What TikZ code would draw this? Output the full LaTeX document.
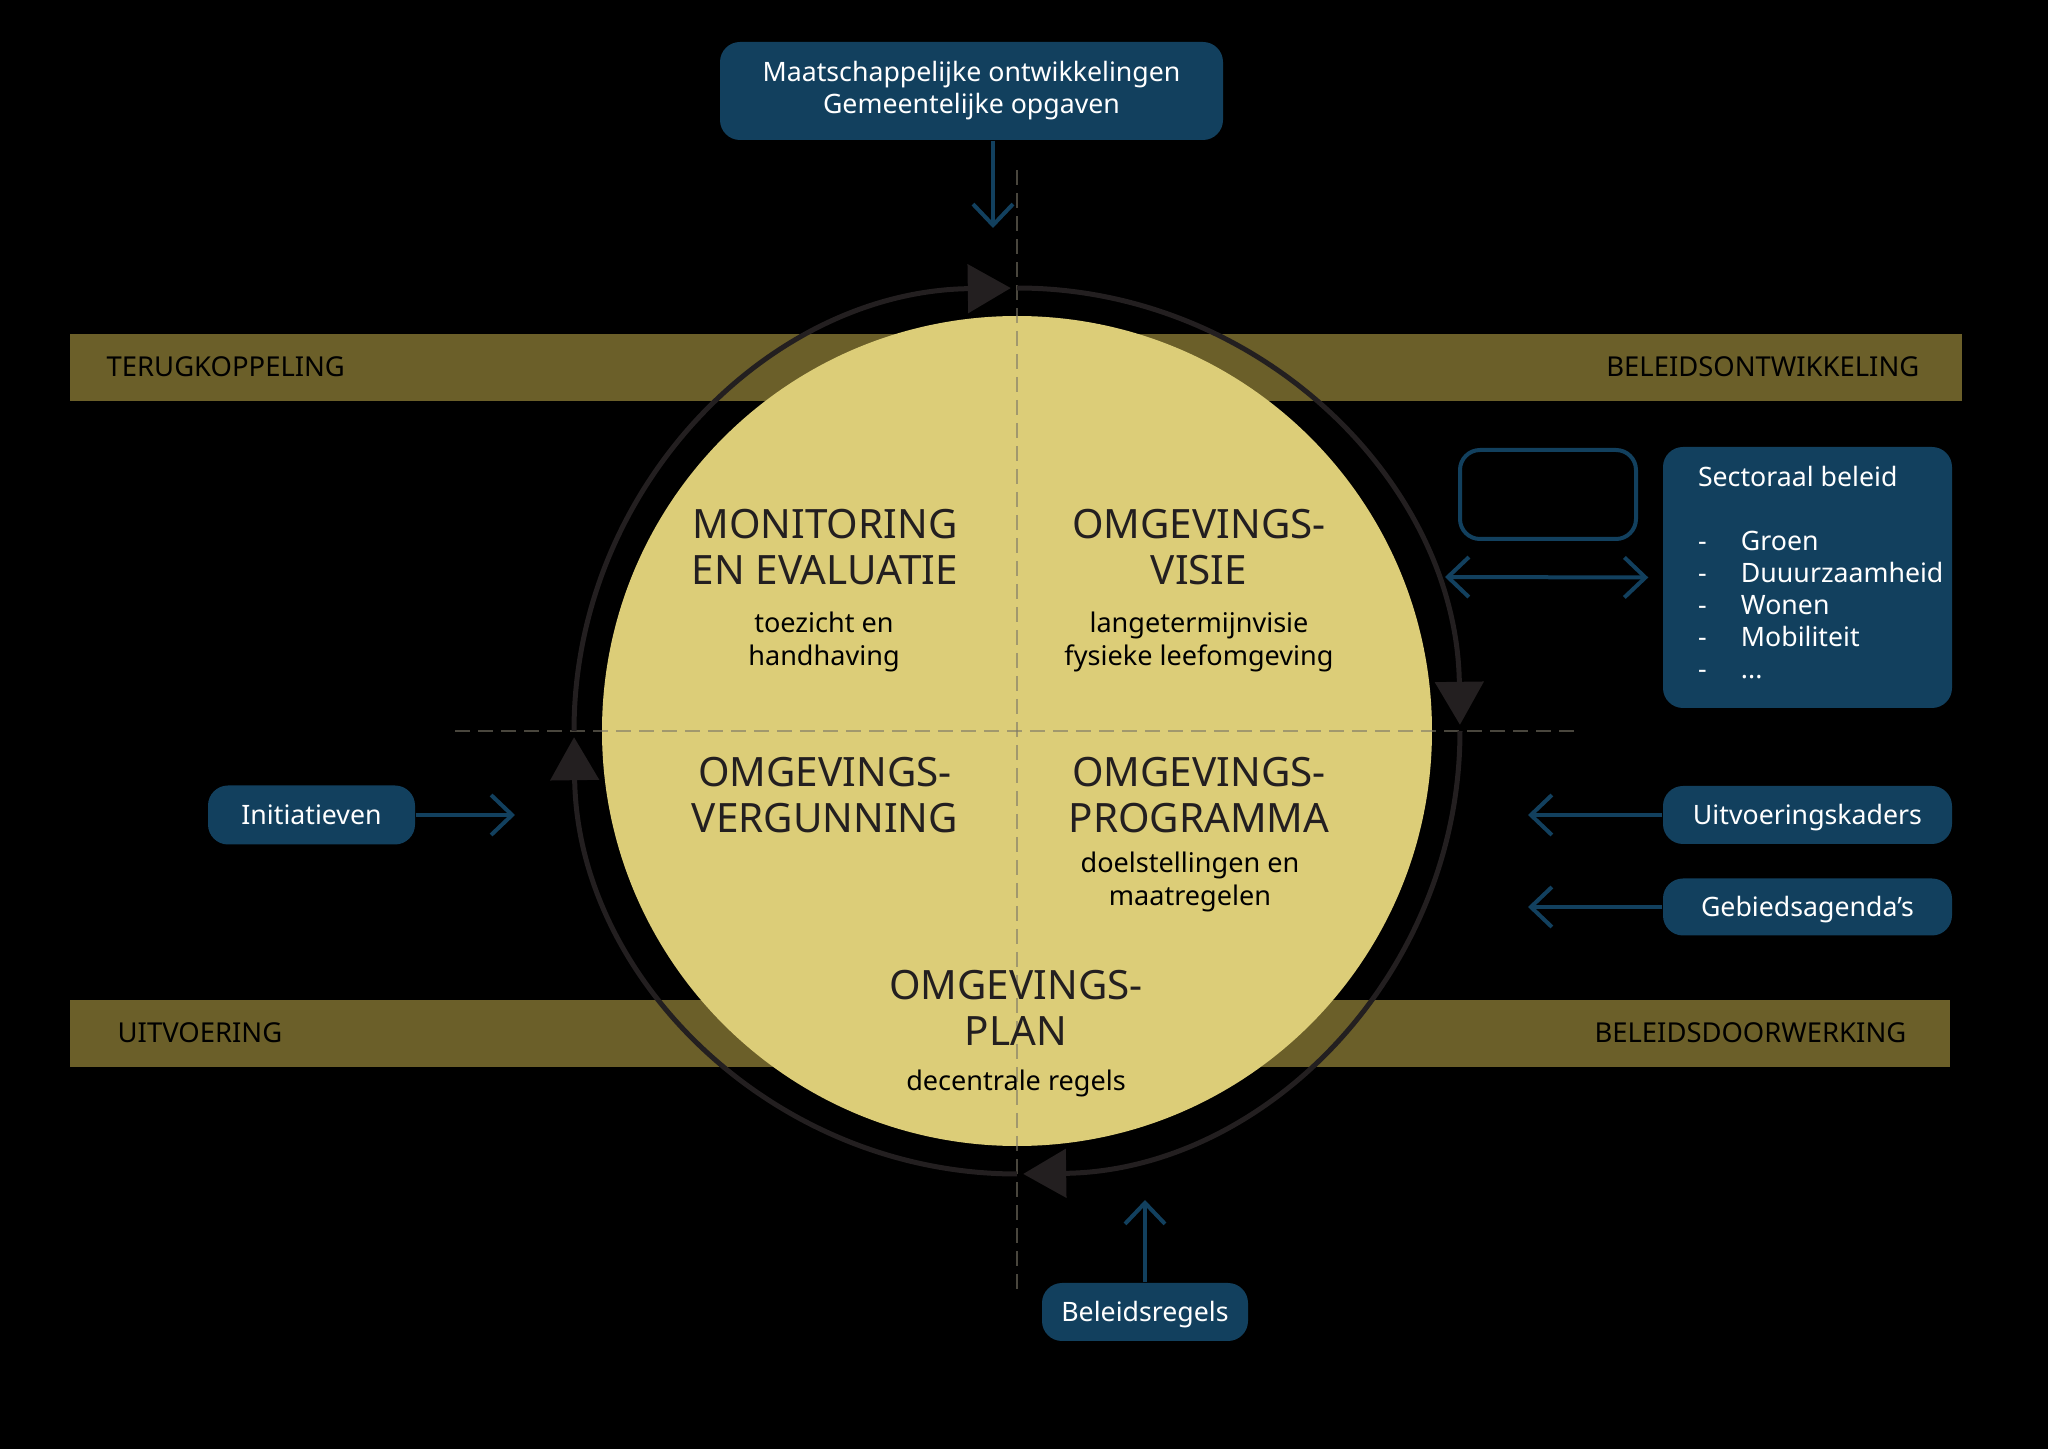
\documentclass[tikz,border=0pt]{standalone}
\usepackage{fontspec}
\setmainfont{Noto Sans}
\usetikzlibrary{arrows.meta,positioning,calc}
\definecolor{pblue}{HTML}{12405E}
\definecolor{pyellow}{HTML}{DCCD78}
\definecolor{polive}{HTML}{6B5F29}
\definecolor{pdark}{HTML}{231F20}
\definecolor{pdash}{HTML}{7A7566}
\newcommand{\itm}{\makebox[0.43cm][l]{-}}
\tikzset{
  barb/.tip={Straight Barb[length=0.21cm,width=0.40cm]},
  bbox/.style={fill=pblue,text=white,rounded corners=0.2cm,align=center,font=\fontsize{7.6}{9.1}\selectfont,inner sep=0pt},
  ebox/.style={bbox,text height=0.19cm,text depth=0cm},
  obox/.style={draw=pblue,line width=0.04cm,rounded corners=0.2cm,inner sep=0pt},
  band/.style={fill=polive},
  bandlbl/.style={font=\fontsize{7.8}{9}\selectfont,text=black,inner sep=0pt},
  qtitle/.style={font=\fontsize{11.5}{13.2}\selectfont,text=pdark,align=center,inner sep=0pt},
  qsub/.style={font=\fontsize{7.7}{9.4}\selectfont,text=black,align=center,inner sep=0pt},
  barr/.style={-barb,line width=0.04cm,draw=pblue},
  dbarr/.style={barb-barb,line width=0.04cm,draw=pblue},
  ring/.style={-{Triangle[length=0.43cm,width=0.48cm]},line width=0.05cm,draw=pdark},
  qline/.style={draw=pdash,draw opacity=0.6,line width=0.015cm,dash pattern=on 0.15cm off 0.08cm},
}

\begin{document}
\begin{tikzpicture}
  \useasboundingbox (0,0) rectangle (20.48,14.48);
  \fill[black] (-0.1,-0.1) rectangle (20.58,14.58);
  % banden
  \fill[band] (0.70,10.47) rectangle (19.62,11.14);
  \fill[band] (0.70,3.81) rectangle (19.50,4.48);
  \node[bandlbl,anchor=west] (terug) at (1.06,10.81) {TERUGKOPPELING};
  \node[bandlbl,anchor=east] (ontw) at (19.20,10.81) {BELEIDSONTWIKKELING};
  \node[bandlbl,anchor=west] (uitvoer) at (1.17,4.15) {UITVOERING};
  \node[bandlbl,anchor=east] (doorw) at (19.07,4.15) {BELEIDSDOORWERKING};
  % cirkel
  \node[circle,fill=pyellow,minimum size=8.30cm,inner sep=0pt] (kern) at (10.17,7.17) {};
  \draw[qline] (10.17,12.78) -- (10.17,1.55);
  \draw[qline] (4.55,7.17) -- (15.80,7.17);
  \foreach \a in {180,90,0,-90} {
    \draw[ring] (kern.center) ++(\a:4.43) arc[start angle=\a,end angle=\a-89.2,radius=4.43];
  }
  % kwadranten
  \node[qtitle] (mon) at (8.25,9.01) {MONITORING\\EN EVALUATIE};
  \node[qsub] (monsub) at (8.24,8.06) {toezicht en\\handhaving};
  \node[qtitle] (visie) at (11.99,9.01) {OMGEVINGS-\\VISIE};
  \node[qsub] (visiesub) at (11.99,8.06) {langetermijnvisie\\fysieke leefomgeving};
  \node[qtitle] (verg) at (8.25,6.53) {OMGEVINGS-\\VERGUNNING};
  \node[qtitle] (prog) at (11.99,6.53) {OMGEVINGS-\\PROGRAMMA};
  \node[qsub] (progsub) at (11.90,5.66) {doelstellingen en\\maatregelen};
  \node[qtitle] (plan) at (10.16,4.40) {OMGEVINGS-\\PLAN};
  \node[qsub] (plansub) at (10.16,3.65) {decentrale regels};
  % invoer
  \node[bbox,minimum width=5.03cm,minimum height=0.98cm] (maat) at (9.715,13.57) {Maatschappelijke ontwikkelingen\\Gemeentelijke opgaven};
  \coordinate (maattip) at (9.93,12.20);
  \draw[barr] (maat.south -| maattip) -- (maattip);
  \node[ebox,minimum width=2.07cm,minimum height=0.59cm] (init) at (3.115,6.33) {Initiatieven};
  \coordinate (inittip) at (5.15,6.33);
  \draw[barr] (init) -- (inittip);
  \node[ebox,minimum width=2.06cm,minimum height=0.58cm] (regels) at (11.45,1.36) {Beleidsregels};
  \coordinate (regelstip) at (11.45,2.48);
  \draw[barr] (regels) -- (regelstip);
  \node[ebox,minimum width=2.89cm,minimum height=0.58cm] (kaders) at (18.075,6.33) {Uitvoeringskaders};
  \coordinate (kaderstip) at (15.28,6.33);
  \draw[barr] (kaders) -- (kaderstip);
  \node[ebox,minimum width=2.89cm,minimum height=0.57cm] (agenda) at (18.075,5.41) {Gebiedsagenda’s};
  \coordinate (agendatip) at (15.28,5.41);
  \draw[barr] (agenda) -- (agendatip);
  % sectoraal
  \node[bbox,minimum width=2.89cm,minimum height=2.61cm] (sect) at (18.075,8.705) {};
  \node[bbox,fill=none,align=left,anchor=west,yshift=0.05cm] (sectlst) at ([xshift=0.35cm]sect.west)
    {Sectoraal beleid\\[9.1pt]\itm Groen\\\itm Duuurzaamheid\\\itm Wonen\\\itm Mobiliteit\\\itm ...};
  \node[obox,minimum width=1.76cm,minimum height=0.89cm] (leeg) at (15.48,9.535) {};
  \coordinate (visiein) at (14.45,8.71);
  \draw[dbarr] (visiein) -- ([xshift=-0.14cm]sect.west);
\end{tikzpicture}
\end{document}
